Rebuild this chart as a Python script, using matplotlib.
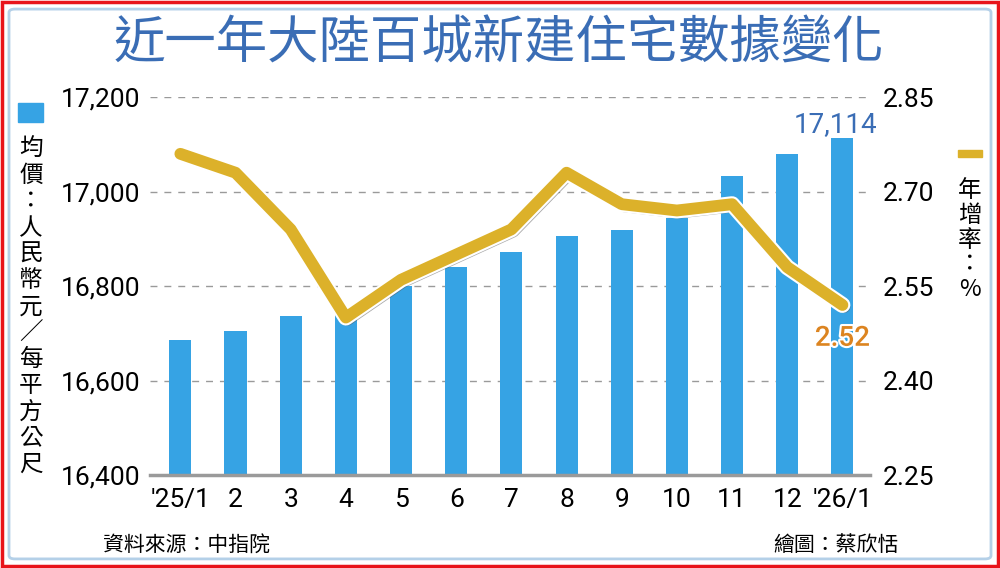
import matplotlib
matplotlib.use("Agg")
import matplotlib.pyplot as plt
import matplotlib.patheffects as pe
from matplotlib.patches import Rectangle, FancyBboxPatch

plt.rcParams['font.family'] = ['Roboto', 'Noto Sans CJK TC', 'DejaVu Sans']

# 資料
months = ["'25/1", "2", "3", "4", "5", "6", "7", "8", "9", "10", "11", "12", "'26/1"]
price = [16686, 16705, 16736, 16745, 16800, 16840, 16872, 16906, 16918, 16944, 17033, 17080, 17114]
growth = [2.76, 2.73, 2.64, 2.50, 2.56, 2.60, 2.64, 2.73, 2.68, 2.67, 2.68, 2.58, 2.52]
left_ticks = [16400, 16600, 16800, 17000, 17200]
right_ticks = [2.25, 2.40, 2.55, 2.70, 2.85]

BAR = '#36a3e4'
GOLD = '#dcb12a'
TITLE_BLUE = '#3a6db5'

fig = plt.figure(figsize=(10, 5.68), dpi=100)

# 外框
fig.patches.append(Rectangle((0.002, 0.003), 0.996, 0.994, transform=fig.transFigure,
                             fill=False, ec='#e8141b', lw=2.5))
fig.patches.append(FancyBboxPatch((0.009, 0.016), 0.982, 0.968, transform=fig.transFigure,
                                  boxstyle='round,pad=0,rounding_size=0.006',
                                  fill=False, ec='#b4d0e8', lw=2))

ax = fig.add_axes([0.15, 0.1637, 0.72, 0.6653])
x = list(range(len(months)))
ax.bar(x, price, width=0.4, color=BAR, zorder=2)
ax.set_ylim(16400, 17200)
ax.set_xlim(-0.55, 12.5)
ax.set_yticks(left_ticks)
ax.set_yticklabels([f'{v:,}' for v in left_ticks], fontsize=19)
ax.set_xticks(x)
ax.set_xticklabels(months, fontsize=19)
ax.tick_params(length=0)
ax.tick_params(axis='y', pad=7)
ax.tick_params(axis='x', pad=9)
for s in ['top', 'right', 'left']:
    ax.spines[s].set_visible(False)
ax.spines['bottom'].set_color('#9a9a9a')
ax.spines['bottom'].set_linewidth(2.5)
ax.spines['bottom'].set_zorder(4)
for v in left_ticks[1:]:
    ax.axhline(v, color='#9a9a9a', lw=1, ls=(0, (5, 5)), zorder=1)

ax2 = ax.twinx()
ax2.set_ylim(2.25, 2.85)
ax2.set_yticks(right_ticks)
ax2.set_yticklabels([f'{v:.2f}' for v in right_ticks], fontsize=19)
ax2.tick_params(length=0, pad=9)
for s in ax2.spines.values():
    s.set_visible(False)
ax2.plot(x, growth, color=GOLD, lw=8.5, solid_capstyle='round', solid_joinstyle='round',
         zorder=3,
         path_effects=[pe.SimpleLineShadow(offset=(1.5, -1.5), shadow_color='#555555', alpha=0.5),
                       pe.Stroke(linewidth=11.5, foreground='white'), pe.Normal()])

ax.annotate(f'{price[-1]:,}', (x[-1], price[-1]), xytext=(-5, 0), textcoords='offset points',
            ha='center', va='bottom', fontsize=20, color=TITLE_BLUE)
ax2.annotate(f'{growth[-1]:.2f}', (x[-1], growth[-1]), xytext=(0, -24), textcoords='offset points',
             ha='center', va='center', fontsize=20, color='#dc8420', fontweight='medium',
             path_effects=[pe.withStroke(linewidth=3, foreground='white')])

# 標題
fig.text(0.499, 0.924, '近一年大陸百城新建住宅數據變化', ha='center', va='center',
         fontsize=37, color=TITLE_BLUE, family=['Noto Sans CJK TC'])

# 左側單位
fig.patches.append(Rectangle((0.018, 1 - 122 / 568), 0.025, 19 / 568, transform=fig.transFigure,
                             color=BAR))
fig.text(0.031, 0.757, '\n'.join('均價：人民幣元／每平方公尺'), ha='center', va='top',
         fontsize=17, linespacing=1.18, family=['Noto Sans CJK TC'])

# 右側單位
fig.patches.append(Rectangle((0.958, 1 - 157 / 568), 0.024, 7 / 568, transform=fig.transFigure,
                             color=GOLD))
fig.text(0.970, 0.685, '\n'.join('年增率：%'), ha='center', va='top',
         fontsize=17, linespacing=1.1, family=['Noto Sans CJK TC'])

fig.text(0.103, 0.04, '資料來源：中指院', ha='left', va='center', fontsize=15,
         family=['Noto Sans CJK TC'])
fig.text(0.899, 0.04, '繪圖：蔡欣恬', ha='right', va='center', fontsize=15,
         family=['Noto Sans CJK TC'])

fig.savefig('out.png', dpi=100)
